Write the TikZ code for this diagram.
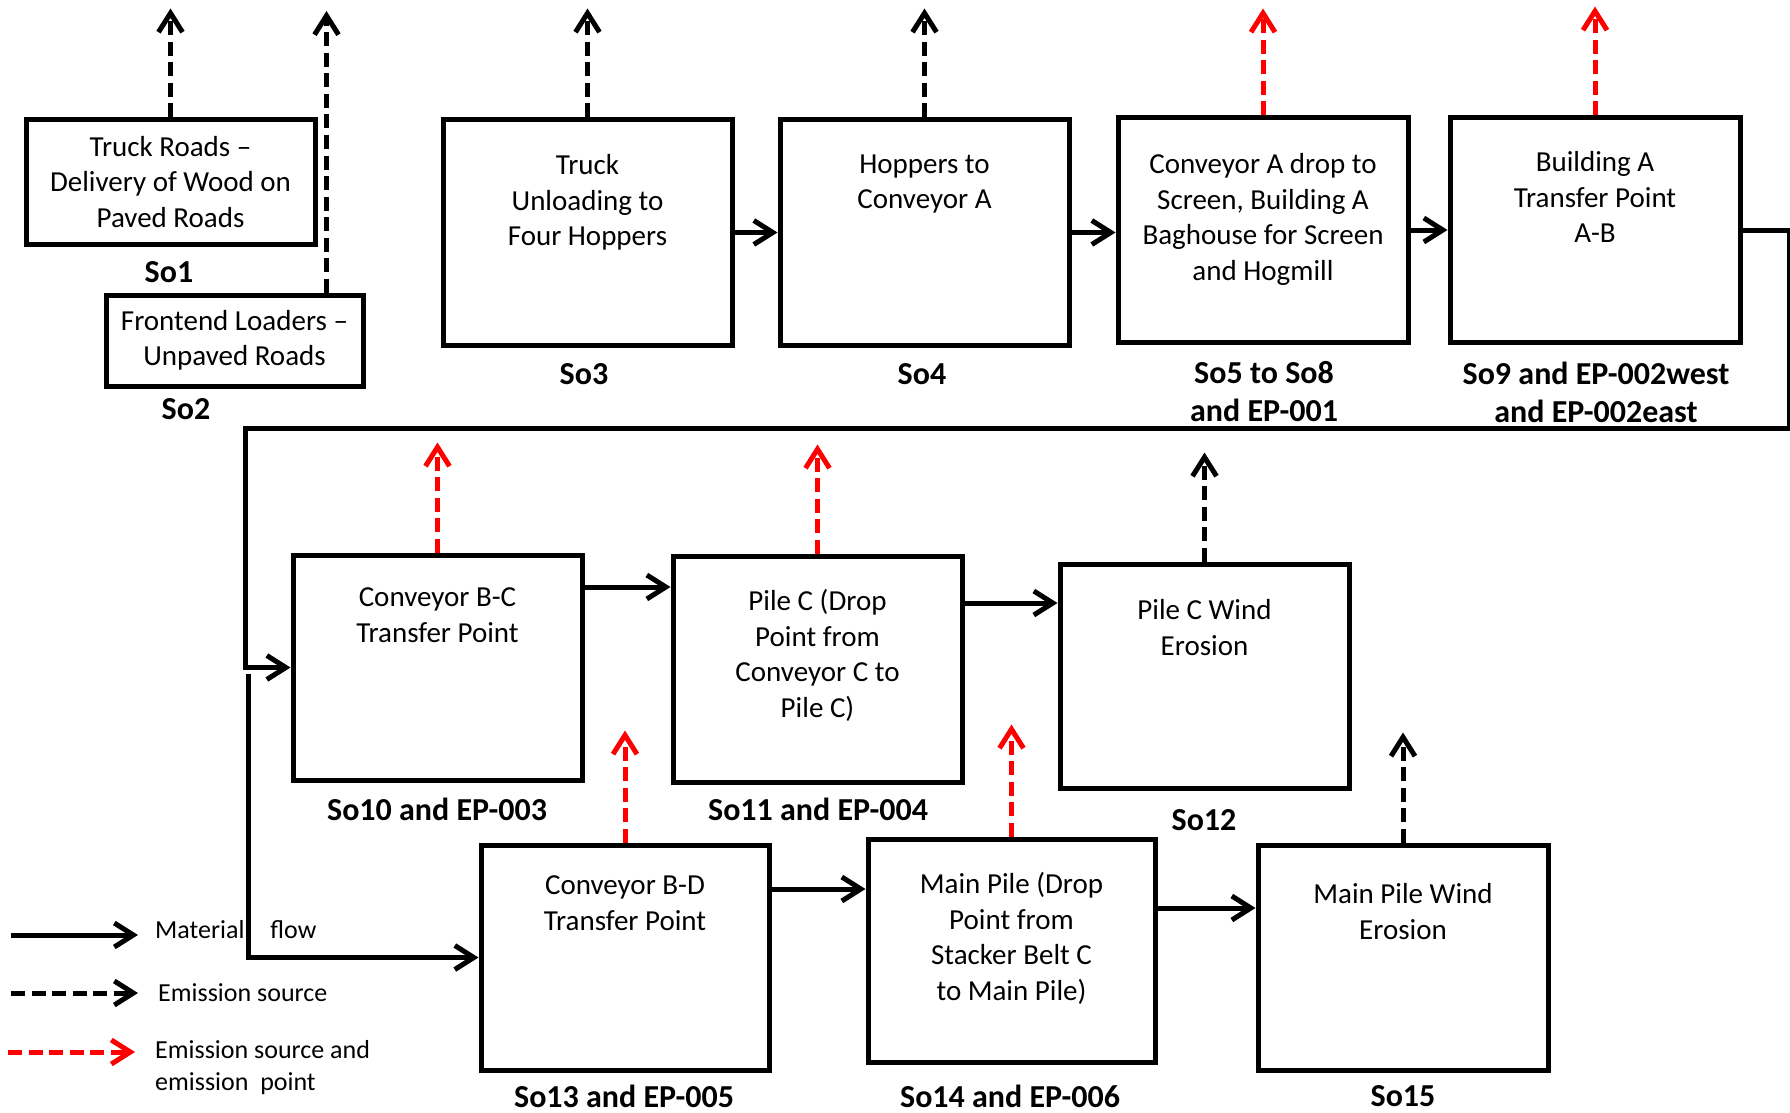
\documentclass[tikz,border=0pt]{standalone}
\usepackage{fontspec}
\setmainfont{Carlito}
\usetikzlibrary{arrows.meta}
\definecolor{ered}{RGB}{255,0,0}
\begin{document}
\begin{tikzpicture}[x=1pt,y=-1pt,
  box/.style={draw, line width=5pt, rectangle, inner sep=0pt},
  btext/.style={align=center, inner sep=0pt, font=\fontsize{29}{35.5}\selectfont},
  lab/.style={align=center, inner sep=0pt, font=\fontsize{32}{38}\selectfont\bfseries},
  legtext/.style={align=left, inner sep=0pt, font=\fontsize{26}{32}\selectfont},
  tip/.style={-{Straight Barb[length=19pt,width=24pt,line width=5pt]}},
  flow/.style={line width=5pt, tip},
  emit/.style={line width=5pt, dash pattern=on 14pt off 6.5pt, tip},
  emitred/.style={emit, draw=ered},
]
\useasboundingbox (0,0) rectangle (1790,1113);

% boxes
\node[box, minimum width=289pt, minimum height=124pt, btext] (so1) at (170.5,182) {Truck Roads –\\Delivery of Wood on\\Paved Roads};
\node[box, minimum width=257pt, minimum height=91pt, btext] (so2) at (234.5,340.5) {Frontend Loaders –\\Unpaved Roads};
\node[box, minimum width=289pt, minimum height=225pt] (so3) at (587.5,232.5) {};
\node[box, minimum width=289pt, minimum height=225pt] (so4) at (924.5,232.5) {};
\node[box, minimum width=290pt, minimum height=224pt] (so5) at (1263,230) {};
\node[box, minimum width=290pt, minimum height=224pt] (so9) at (1595,230) {};
\node[box, minimum width=289pt, minimum height=225pt] (so10) at (437.5,667.5) {};
\node[box, minimum width=289pt, minimum height=226pt] (so11) at (817.5,669) {};
\node[box, minimum width=289pt, minimum height=224pt] (so12) at (1204.5,676) {};
\node[box, minimum width=288pt, minimum height=225pt] (so13) at (625,957.5) {};
\node[box, minimum width=287pt, minimum height=223pt] (so14) at (1011.5,950.5) {};
\node[box, minimum width=290pt, minimum height=225pt] (so15) at (1403,957.5) {};

% box texts
\node[btext, anchor=north] (t3) at ([yshift=-37pt]so3.north) {Truck\\Unloading to\\Four Hoppers};
\node[btext, anchor=north] (t4) at ([yshift=-37pt]so4.north) {Hoppers to\\Conveyor A};
\node[btext, anchor=north] (t5) at ([yshift=-38pt]so5.north) {Conveyor A drop to\\Screen, Building A\\Baghouse for Screen\\and Hogmill};
\node[btext, anchor=north] (t9) at ([yshift=-36pt]so9.north) {Building A\\Transfer Point\\A-B};
\node[btext, anchor=north] (t10) at ([yshift=-35pt]so10.north) {Conveyor B-C\\Transfer Point};
\node[btext, anchor=north] (t11) at ([yshift=-36pt]so11.north) {Pile C (Drop\\Point from\\Conveyor C to\\Pile C)};
\node[btext, anchor=north] (t12) at ([yshift=-38pt]so12.north) {Pile C Wind\\Erosion};
\node[btext, anchor=north] (t13) at ([yshift=-33pt]so13.north) {Conveyor B-D\\Transfer Point};
\node[btext, anchor=north] (t14) at ([yshift=-36pt]so14.north) {Main Pile (Drop\\Point from\\Stacker Belt C\\to Main Pile)};
\node[btext, anchor=north] (t15) at ([yshift=-41pt]so15.north) {Main Pile Wind\\Erosion};

% labels
\node[lab] (l1) at (169,272) {So1};
\node[lab] (l2) at (186,409) {So2};
\node[lab] (l3) at (584,374) {So3};
\node[lab] (l4) at (922,374) {So4};
\node[lab] (l5) at (1264,392) {So5 to So8\\and EP-001};
\node[lab] (l9) at (1596,392) {So9 and EP-002west\\and EP-002east};
\node[lab] (l10) at (437,809) {So10 and EP-003};
\node[lab] (l11) at (818,809) {So11 and EP-004};
\node[lab] (l12) at (1204,820) {So12};
\node[lab] (l13) at (624,1096) {So13 and EP-005};
\node[lab] (l14) at (1010,1096) {So14 and EP-006};
\node[lab] (l15) at (1403,1096) {So15};

% emission arrows
\draw[emit] (so1.north) -- ++(0,-109);
\coordinate (e2) at ([xshift=92pt]so2.north);
\draw[emit] (e2) -- (326.5,11);
\draw[emit] (so3.north) -- ++(0,-109);
\draw[emit] (so4.north) -- ++(0,-109);
\draw[emitred] (so5.north) -- ++(0,-107);
\draw[emitred] (so9.north) -- ++(0,-109);
\draw[emitred] (so10.north) -- ++(0,-110);
\draw[emitred] (so11.north) -- ++(0,-109);
\draw[emit] (so12.north) -- ++(0,-109);
\draw[emitred] (so13.north) -- ++(0,-112);
\draw[emitred] (so14.north) -- ++(0,-112);
\draw[emit] (so15.north) -- ++(0,-110);

% material flow
\draw[flow] (so3.east) -- (so4.west);
\draw[flow] (so4.east) -- (so4.east -| so5.west);
\draw[flow] (so5.east) -- (so9.west);
\draw[flow, line join=miter] (so9.east) -- ++(47,0) |- (245,428) |- (so10.west);
\coordinate (b0) at (248,674);
\draw[flow] (b0) |- (so13.west);
\coordinate (a10) at ([yshift=80.5pt]so10.east);
\draw[flow] (a10) -- (a10 -| so11.west);
\coordinate (a11) at ([yshift=66pt]so11.east);
\draw[flow] (a11) -- (a11 -| so12.west);
\coordinate (a13) at ([yshift=68.5pt]so13.east);
\draw[flow] (a13) -- (a13 -| so14.west);
\coordinate (a14) at ([yshift=42.5pt]so14.east);
\draw[flow] (a14) -- (a14 -| so15.west);

% legend
\coordinate (m0) at (11,935); \coordinate (m1) at (138,935);
\draw[flow] (m0) -- (m1);
\node[legtext, anchor=west] (lm) at (155,930) {Material\hspace{26pt}flow};
\coordinate (s0) at (11,993); \coordinate (s1) at (138,993);
\draw[emit] (s0) -- (s1);
\node[legtext, anchor=west] (ls) at (158,993) {Emission source};
\coordinate (r0) at (8,1052); \coordinate (r1) at (135,1052);
\draw[emitred] (r0) -- (r1);
\node[legtext, anchor=west] (lr) at (155,1068) {Emission source and\\emission\ \ point};
\end{tikzpicture}
\end{document}
